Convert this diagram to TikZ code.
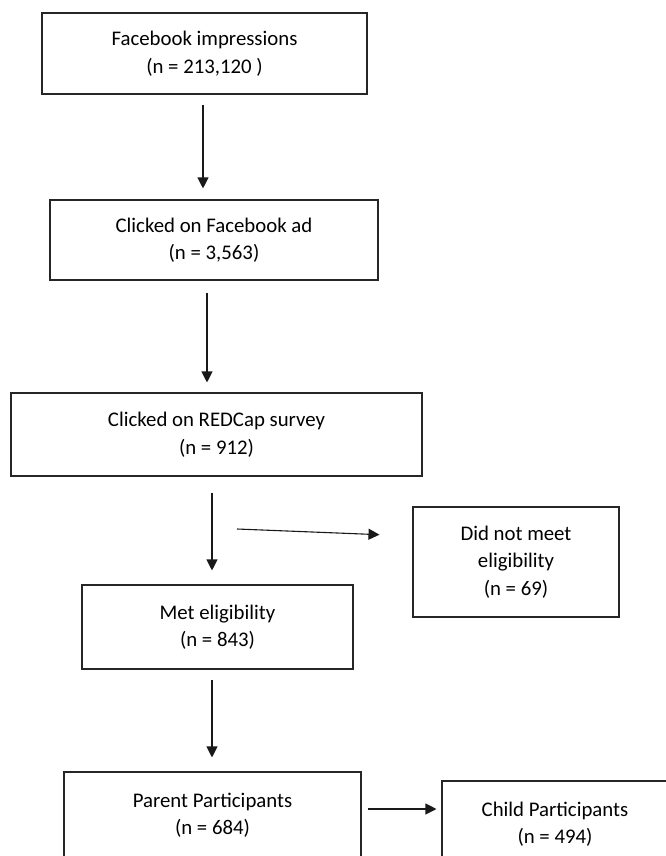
\documentclass[tikz,border=0pt]{standalone}
\usepackage{fontspec}
\setmainfont{Carlito}
\usepackage{tikz}
\usetikzlibrary{arrows.meta,positioning}

\begin{document}
\begin{tikzpicture}
[x=1pt, y=-1pt, font=\fontsize{20.8}{27.5}\selectfont,
% STYLES
>={Triangle[length=11pt, width=11pt]},
% The stage style is used to draw each step of the recruitment
stage/.style={rectangle, draw=black!85, line width=1.1pt, inner sep=0pt, align=center,
  execute at begin node=\rule{0pt}{22pt}},
% The flow style is used for the arrows between the steps
flow/.style={->, draw=black!90, line width=1.1pt}]

\clip (0,0) rectangle (666,856);

% Draw stages
\node [stage, minimum width=325pt, minimum height=81pt] (impressions) at (204.5,53.5) {Facebook impressions\\(n = 213,120 )};
\node [stage, minimum width=328pt, minimum height=80pt] (adclick) at (214,240) {Clicked on Facebook ad\\(n = 3,563)};
\node [stage, minimum width=411pt, minimum height=83pt] (survey) at (216.5,434.5) {Clicked on REDCap survey\\(n = 912)};
\node [stage, minimum width=271pt, minimum height=84pt] (eligible) at (217.5,627) {Met eligibility\\(n = 843)};
\node [stage, minimum width=206pt, minimum height=110pt] (excluded) at (516,562) {Did not meet\\eligibility\\(n = 69)};
\node [stage, minimum width=297pt, minimum height=86pt] (parents) at (212.5,815) {Parent Participants\\(n = 684)};
\node [stage, minimum width=226pt, minimum height=86pt] (children) at (555,824) {Child Participants\\(n = 494)};

% Free start of the exclusion arrow
\coordinate (split) at (237,529);

% Draw the links between stages
\draw [flow, shorten <=10pt, shorten >=11pt] ([xshift=-1.5pt]impressions.south) -- ([xshift=-1.5pt]impressions.south |- adclick.north);
\draw [flow, shorten <=12pt, shorten >=10pt] ([xshift=-7pt]adclick.south) -- ([xshift=-7pt]adclick.south |- survey.north);
\draw [flow, shorten <=16pt, shorten >=14pt] ([xshift=-4.5pt]survey.south) -- ([xshift=-4.5pt]survey.south |- eligible.north);
\draw [flow, shorten <=10pt, shorten >=14pt] ([xshift=-5.5pt]eligible.south) -- ([xshift=-5.5pt]eligible.south |- parents.north);
\draw [flow, shorten >=33pt] (split) -- ([yshift=26pt]excluded.west);
\draw [flow, shorten <=6pt, shorten >=5pt] ([yshift=6pt]parents.east) -- ([yshift=6pt]parents.east -| children.west);

\end{tikzpicture}
\end{document}
